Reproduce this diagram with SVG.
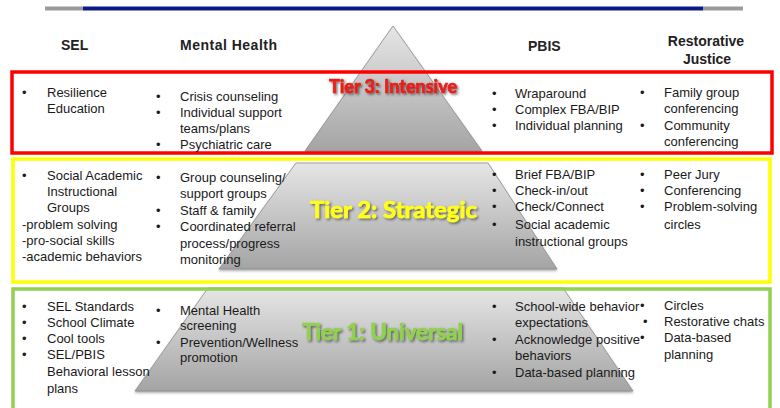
<svg xmlns="http://www.w3.org/2000/svg" width="780" height="408" viewBox="0 0 780 408">
<defs>
<linearGradient id="pg" x1="0" y1="0" x2="0" y2="1">
<stop offset="0" stop-color="#e6e6e6"/>
<stop offset="1" stop-color="#a4a4a4"/>
</linearGradient>
<filter id="sh" x="-10%" y="-30%" width="120%" height="160%">
<feDropShadow dx="1.5" dy="1.5" stdDeviation="1.2" flood-color="#333" flood-opacity="0.7"/>
</filter>
<filter id="psh" x="-5%" y="-5%" width="110%" height="115%">
<feDropShadow dx="0" dy="1.5" stdDeviation="1" flood-color="#555" flood-opacity="0.5"/>
</filter>
</defs>
<style>
.t{font-family:"Liberation Sans",Arial,sans-serif;font-size:13px;fill:#1a1a1a}
.h{font-family:"Liberation Sans",Arial,sans-serif;font-size:14px;font-weight:bold;fill:#222}
.p{fill:url(#pg);stroke:#8c8c8c;stroke-width:0.8;filter:url(#psh)}
.box{fill:none;stroke-width:3.5}
.tl{font-family:Lato,"Open Sans",sans-serif;font-weight:bold;stroke-width:0.7;filter:url(#sh)}
</style>
<rect width="780" height="408" fill="#ffffff"/>
<g id="topbar">
<rect x="45" y="6.5" width="38" height="4" fill="#9a9a9a"/>
<rect x="83" y="6.5" width="620" height="4" fill="#0b1a86"/>
<rect x="703" y="6.5" width="40" height="4" fill="#9a9a9a"/>
</g>
<g id="pyramid">
<polygon class="p" points="393,26 482,151 305,151"/>
<polygon class="p" points="296,163 488,163 557,269 219,269"/>
<polygon class="p" points="208,288 563,288 633,391 135,391"/>
</g>
<g id="boxes">
<rect class="box" x="12" y="72" width="760" height="81" stroke="#ff0000"/>
<rect class="box" x="13" y="159" width="757" height="123" stroke="#ffff00"/>
<rect class="box" x="13" y="289" width="757" height="130" stroke="#92d050"/>
</g>
<g id="headers">
<text class="h" x="61" y="50">SEL</text>
<text class="h" x="180" y="50" textLength="97" lengthAdjust="spacing">Mental Health</text>
<text class="h" x="528" y="51">PBIS</text>
<text class="h" x="706" y="46" text-anchor="middle">Restorative</text>
<text class="h" x="707" y="64" text-anchor="middle">Justice</text>
</g>
<g id="tier3">
<text class="tl" x="393" y="93" font-size="18" fill="#e8201a" stroke="#e8201a" text-anchor="middle" textLength="128" lengthAdjust="spacingAndGlyphs">Tier 3: Intensive</text>
<text class="t" x="22" y="97">•</text>
<text class="t" x="47" y="97">Resilience</text>
<text class="t" x="47" y="113">Education</text>
<text class="t" x="156" y="101">•</text>
<text class="t" x="180" y="101">Crisis counseling</text>
<text class="t" x="156" y="117">•</text>
<text class="t" x="180" y="117">Individual support</text>
<text class="t" x="180" y="133">teams/plans</text>
<text class="t" x="156" y="149">•</text>
<text class="t" x="180" y="149">Psychiatric care</text>
<text class="t" x="492" y="98">•</text>
<text class="t" x="515" y="98">Wraparound</text>
<text class="t" x="492" y="114">•</text>
<text class="t" x="515" y="114">Complex FBA/BIP</text>
<text class="t" x="492" y="130">•</text>
<text class="t" x="515" y="130">Individual planning</text>
<text class="t" x="640" y="97">•</text>
<text class="t" x="664" y="97">Family group</text>
<text class="t" x="664" y="113">conferencing</text>
<text class="t" x="640" y="130">•</text>
<text class="t" x="664" y="130">Community</text>
<text class="t" x="664" y="146">conferencing</text>
</g>
<g id="tier2">
<text class="tl" x="393.5" y="218" font-size="23" fill="#ffff1a" stroke="#ffff1a" text-anchor="middle" textLength="167" lengthAdjust="spacingAndGlyphs">Tier 2: Strategic</text>
<text class="t" x="22" y="180">•</text>
<text class="t" x="47" y="180">Social Academic</text>
<text class="t" x="47" y="196">Instructional</text>
<text class="t" x="47" y="212">Groups</text>
<text class="t" x="22" y="229">-problem solving</text>
<text class="t" x="22" y="245">-pro-social skills</text>
<text class="t" x="22" y="261">-academic behaviors</text>
<text class="t" x="156" y="182">•</text>
<text class="t" x="180" y="182">Group counseling/</text>
<text class="t" x="180" y="198">support groups</text>
<text class="t" x="156" y="215">•</text>
<text class="t" x="180" y="215">Staff &amp; family</text>
<text class="t" x="156" y="231">•</text>
<text class="t" x="180" y="231">Coordinated referral</text>
<text class="t" x="180" y="248">process/progress</text>
<text class="t" x="180" y="264">monitoring</text>
<text class="t" x="492" y="179">•</text>
<text class="t" x="515" y="179">Brief FBA/BIP</text>
<text class="t" x="492" y="195">•</text>
<text class="t" x="515" y="195">Check-in/out</text>
<text class="t" x="492" y="211">•</text>
<text class="t" x="515" y="211">Check/Connect</text>
<text class="t" x="492" y="229">•</text>
<text class="t" x="515" y="229">Social academic</text>
<text class="t" x="515" y="246">instructional groups</text>
<text class="t" x="640" y="179">•</text>
<text class="t" x="664" y="179">Peer Jury</text>
<text class="t" x="640" y="195">•</text>
<text class="t" x="664" y="195">Conferencing</text>
<text class="t" x="640" y="211">•</text>
<text class="t" x="664" y="211">Problem-solving</text>
<text class="t" x="664" y="229">circles</text>
</g>
<g id="tier1">
<text class="tl" x="382.5" y="340" font-size="22" fill="#92d050" stroke="#92d050" text-anchor="middle" textLength="161" lengthAdjust="spacingAndGlyphs">Tier 1: Universal</text>
<text class="t" x="22" y="311">•</text>
<text class="t" x="47" y="311">SEL Standards</text>
<text class="t" x="22" y="327">•</text>
<text class="t" x="47" y="327">School Climate</text>
<text class="t" x="22" y="343">•</text>
<text class="t" x="47" y="343">Cool tools</text>
<text class="t" x="22" y="359">•</text>
<text class="t" x="47" y="359">SEL/PBIS</text>
<text class="t" x="47" y="376">Behavioral lesson</text>
<text class="t" x="47" y="393">plans</text>
<text class="t" x="156" y="315">•</text>
<text class="t" x="180" y="315">Mental Health</text>
<text class="t" x="180" y="330">screening</text>
<text class="t" x="156" y="347">•</text>
<text class="t" x="180" y="347">Prevention/Wellness</text>
<text class="t" x="180" y="362">promotion</text>
<text class="t" x="492" y="311">•</text>
<text class="t" x="515" y="311">School-wide behavior</text>
<text class="t" x="515" y="327">expectations</text>
<text class="t" x="492" y="344">•</text>
<text class="t" x="515" y="344">Acknowledge positive</text>
<text class="t" x="515" y="360">behaviors</text>
<text class="t" x="492" y="377">•</text>
<text class="t" x="515" y="377">Data-based planning</text>
<text class="t" x="640" y="310">•</text>
<text class="t" x="664" y="310">Circles</text>
<text class="t" x="643" y="326">•</text>
<text class="t" x="664" y="326">Restorative chats</text>
<text class="t" x="640" y="342">•</text>
<text class="t" x="664" y="342">Data-based</text>
<text class="t" x="664" y="359">planning</text>
</g>
</svg>
